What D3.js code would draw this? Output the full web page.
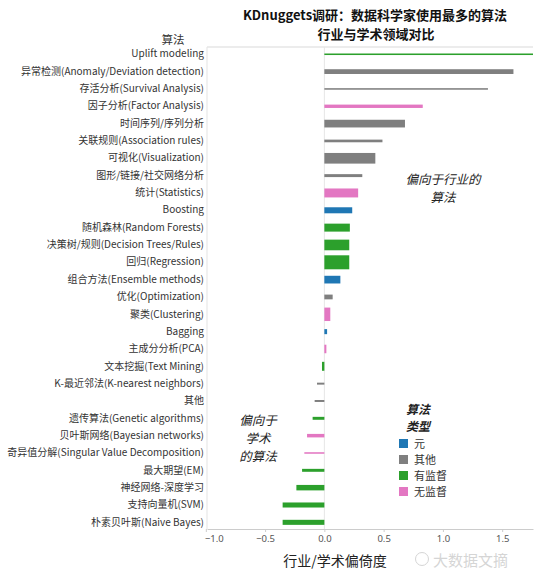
<!DOCTYPE html>
<html><head><meta charset="utf-8">
<script src="https://cdn.jsdelivr.net/npm/d3@7"></script>
<style>
body{margin:0;background:#fff;}
text{font-family:"Noto Sans CJK SC","Noto Sans",sans-serif;}
</style></head>
<body><svg id="c" width="543" height="572"></svg>
<script>
const categories = [
  "Uplift modeling","异常检测(Anomaly/Deviation detection)","存活分析(Survival Analysis)","因子分析(Factor Analysis)",
  "时间序列/序列分析","关联规则(Association rules)","可视化(Visualization)","图形/链接/社交网络分析",
  "统计(Statistics)","Boosting","随机森林(Random Forests)","决策树/规则(Decision Trees/Rules)",
  "回归(Regression)","组合方法(Ensemble methods)","优化(Optimization)","聚类(Clustering)",
  "Bagging","主成分分析(PCA)","文本挖掘(Text Mining)","K-最近邻法(K-nearest neighbors)",
  "其他","遗传算法(Genetic algorithms)","贝叶斯网络(Bayesian networks)","奇异值分解(Singular Value Decomposition)",
  "最大期望(EM)","神经网络-深度学习","支持向量机(SVM)","朴素贝叶斯(Naive Bayes)"
];
const bias = [1.8,1.595,1.38,0.83,0.68,0.49,0.43,0.32,0.285,0.235,0.215,0.21,0.21,0.135,0.07,0.05,0.023,0.017,
  -0.02,-0.062,-0.082,-0.099,-0.146,-0.169,-0.188,-0.236,-0.352,-0.352];
const usage = [11,34,11,24,55,19,76,21,64,43,57,76,100,55,34,96,36,61,64,14,14,21,25,11,21,39,36,36];
const types = ["有监督","其他","其他","无监督","其他","其他","其他","其他","无监督","元","有监督","有监督",
  "有监督","元","其他","无监督","元","无监督","有监督","其他","其他","有监督","无监督","无监督",
  "有监督","有监督","有监督","有监督"];
const legendTypes = ["元","其他","有监督","无监督"];
const typeColors = ["#1f77b4","#7f7f7f","#2ca02c","#e377c2"];
const xTicks = [-1.0,-0.5,0.0,0.5,1.0,1.5];

const svg = d3.select("#c");
const L = 207, R = 533, T = 47, B = 529;
const x = d3.scaleLinear().domain([-0.99,1.76]).range([L,R]);
const y = d3.scaleBand().domain(categories).range([45.6,531]).padding(0);
const thick = d3.scaleLinear().domain([0,100]).range([0,14]);
const color = d3.scaleOrdinal().domain(legendTypes).range(typeColors);

const data = categories.map((c,i)=>({c, v:bias[i], u:usage[i], t:types[i]}));

// title
svg.append("text").attr("x",375).attr("y",20).attr("text-anchor","middle")
  .attr("font-size",13).attr("font-weight","bold").attr("fill","#111").text("KDnuggets调研：数据科学家使用最多的算法");
svg.append("text").attr("x",376).attr("y",39).attr("text-anchor","middle")
  .attr("font-size",13).attr("font-weight","bold").attr("fill","#111").text("行业与学术领域对比");

// header
svg.append("text").attr("x",173).attr("y",44).attr("text-anchor","middle")
  .attr("font-size",11.5).attr("fill","#333").text("算法");

// frame
svg.append("line").attr("x1",L).attr("x2",R).attr("y1",T).attr("y2",T).attr("stroke","#d9d9d9");
svg.append("line").attr("x1",L).attr("x2",L).attr("y1",T).attr("y2",B).attr("stroke","#e3e3e3");
svg.append("line").attr("x1",x(0)).attr("x2",x(0)).attr("y1",T).attr("y2",B).attr("stroke","#e6e6e6");

// clip
svg.append("clipPath").attr("id","pc").append("rect").attr("x",L).attr("y",T).attr("width",R-L).attr("height",B-T);

// bars
svg.append("g").attr("clip-path","url(#pc)").selectAll("rect").data(data).join("rect")
  .attr("x",d=>x(Math.min(0,d.v)))
  .attr("width",d=>Math.abs(x(d.v)-x(0)))
  .attr("y",d=>y(d.c)+y.bandwidth()/2-thick(d.u)/2)
  .attr("height",d=>thick(d.u))
  .attr("fill",d=>color(d.t));

// y labels
const ya = svg.append("g").attr("transform",`translate(${L},0)`)
  .call(d3.axisLeft(y).tickSize(0).tickPadding(3));
ya.select(".domain").remove();
ya.selectAll("text").attr("font-size",10).attr("fill","#333")
  .style("font-family",'"Noto Sans CJK SC","Noto Sans",sans-serif');

// x axis
const xa = svg.append("g").attr("transform",`translate(0,${B})`)
  .call(d3.axisBottom(x).tickValues(xTicks).tickFormat(d3.format(".1f")).tickSize(3).tickSizeOuter(0));
xa.select(".domain").attr("stroke","#ccc");
xa.selectAll(".tick line").attr("stroke","#ccc");
xa.selectAll("text").attr("font-size",9.5).attr("fill","#555")
  .style("font-family",'"Noto Sans","DejaVu Sans",sans-serif');
xa.selectAll(".tick").filter(d=>d===-1.0).select("text").attr("dx",8);
svg.append("text").attr("x",335).attr("y",566).attr("text-anchor","middle")
  .attr("font-size",14).attr("fill","#222").text("行业/学术偏倚度");

// annotations
["偏向于行业的","算法"].forEach((s,i)=>svg.append("text").attr("text-anchor","middle").attr("font-size",12.5)
  .attr("font-style","italic").attr("fill","#222").attr("x",443).attr("y",184+i*18.2).text(s));
["偏向于","学术","的算法"].forEach((s,i)=>svg.append("text").attr("text-anchor","middle").attr("font-size",12.5)
  .attr("font-style","italic").attr("fill","#222").attr("x",258).attr("y",425+i*18).text(s));

// legend
const lg = svg.append("g");
["算法","类型"].forEach((s,i)=>lg.append("text").attr("text-anchor","middle").attr("font-size",12)
  .attr("font-style","italic").attr("font-weight","bold").attr("fill","#222")
  .attr("x",418).attr("y",413.5+i*17.5).text(s));
const li = lg.selectAll("g.it").data(legendTypes).join("g").attr("class","it")
  .attr("transform",(d,i)=>`translate(399,${439+i*16})`);
li.append("rect").attr("width",9).attr("height",9).attr("fill",d=>color(d));
li.append("text").attr("x",15).attr("y",8.5).attr("font-size",11).attr("fill","#333").text(d=>d);

// watermark
const wm = svg.append("g").attr("opacity",0.35);
wm.append("circle").attr("cx",422).attr("cy",559).attr("r",6.5).attr("fill","none").attr("stroke","#888");
wm.append("text").attr("x",433).attr("y",566).attr("font-size",15).attr("fill","#888").text("大数据文摘");
</script></body></html>
